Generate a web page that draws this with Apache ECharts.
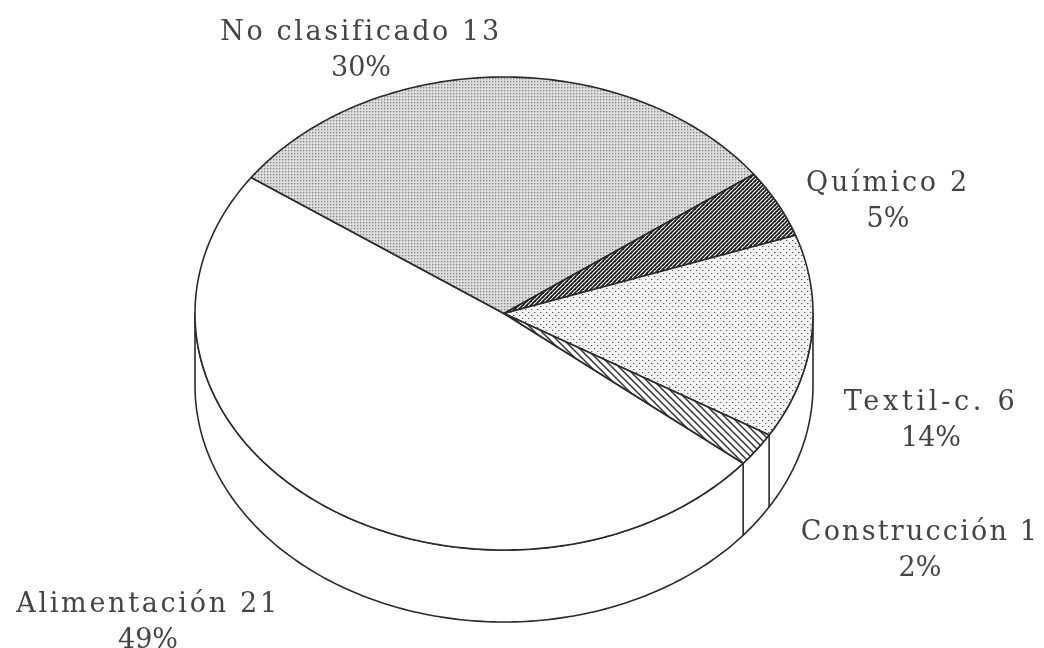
<!DOCTYPE html>
<html><head><meta charset="utf-8">
<style>html,body{margin:0;padding:0;background:#fff}#c{width:1044px;height:648px}</style>
<script src="https://cdn.jsdelivr.net/npm/echarts@6/dist/echarts.min.js"></script>
</head><body><div id="c"></div>
<script>
const categories = ['Alimentación','No clasificado','Químico','Textil-c.','Construcción'];
const counts = [21,13,2,6,1];
const percents = ['49%','30%','5%','14%','2%'];
const patternNames = ['blank','fineDots','darkHatch','sparseDots','lightHatch'];
const labelCenters = [[148,605],[361,33],[888,184],[931,403],[920,533]];
const labelGaps = [2.7,2.6,2.7,3.7,2.2];

const CX=504, CY=313.5, RX=309, RY=236.5, DEPTH=72, START=144.9, INK='#2a2a2a';

// per-label tracking, the original font is wider than any installed one
const gapByText={};
categories.forEach((c,i)=>{gapByText[c+' '+counts[i]]=labelGaps[i];});
const nativeFillText=CanvasRenderingContext2D.prototype.fillText;
CanvasRenderingContext2D.prototype.fillText=function(t,x,y,m){
  this.letterSpacing=(gapByText[t]||0)+'px';
  if(m===undefined)nativeFillText.call(this,t,x,y);else nativeFillText.call(this,t,x,y,m);
  this.letterSpacing='0px';
};

function tile(w,h,draw){const c=document.createElement('canvas');c.width=w;c.height=h;const g=c.getContext('2d');g.fillStyle='#fff';g.fillRect(0,0,w,h);draw(g);return {image:c,repeat:'repeat'};}
function hatch(g,p,dir,w,col){g.strokeStyle=col;g.lineWidth=w;for(let k=-3;k<=3;k++){g.beginPath();if(dir>0){g.moveTo(k*p-p,2*p);g.lineTo(k*p+2*p,-p);}else{g.moveTo(k*p-p,-p);g.lineTo(k*p+2*p,2*p);}g.stroke();}}
const patterns={
  blank:'#fff',
  fineDots:tile(3,3,g=>{g.fillStyle='#dcdcdc';g.fillRect(0,0,3,3);g.fillStyle='#888';g.fillRect(0,0,1,1);g.fillStyle='#bdbdbd';g.fillRect(1,0,1,1);g.fillRect(0,1,1,1);}),
  sparseDots:tile(6,6,g=>{g.fillStyle='#f4f4f4';g.fillRect(0,0,6,6);g.fillStyle='#555';g.fillRect(0,0,1,1);g.fillRect(3,3,1,1);g.fillStyle='#c4c4c4';g.fillRect(1,0,1,1);g.fillRect(4,3,1,1);}),
  darkHatch:tile(4,4,g=>hatch(g,4,1,1.8,'#1c1c1c')),
  lightHatch:tile(7,7,g=>hatch(g,7,-1,1.5,'#333'))
};
const total=counts.reduce((a,b)=>a+b,0);
function pt(deg,dy){const r=deg*Math.PI/180;return [CX+RX*Math.cos(r),CY-RY*Math.sin(r)+(dy||0)];}
function arc(a,b,dy){const n=Math.max(2,Math.ceil(Math.abs(b-a)));const p=[];for(let i=0;i<=n;i++)p.push(pt(a+(b-a)*i/n,dy));return p;}
const line={stroke:INK,lineWidth:1.6,lineJoin:'round'};

function renderItem(params,api){
  if(params.dataIndex!==0)return;
  const kids=[];
  // side wall: front half of the cylinder
  const wall=arc(180,360,0).concat(arc(360,180,DEPTH));
  kids.push({type:'polygon',shape:{points:wall},style:Object.assign({fill:'#fff'},line)});
  // slice spans: Alimentación runs anticlockwise from START, the others clockwise
  const spans=[];
  spans[0]=[START,START+counts[0]/total*360];
  let cw=START;
  for(let i=1;i<counts.length;i++){const s=counts[i]/total*360;spans[i]=[cw-s,cw];cw-=s;}
  counts.forEach((v,i)=>{
    const [s,e]=spans[i];
    const pts=[[CX,CY]].concat(arc(s,e,0));
    kids.push({type:'polygon',shape:{points:pts},style:Object.assign({fill:patterns[patternNames[i]]},line)});
  });
  // wall edges below visible slice boundaries
  for(let i=1;i<counts.length;i++){
    const deg=spans[i][0];
    const n=((deg%360)+360)%360;
    if(n>180){const p=pt(deg,0);const q=pt(deg,DEPTH);
      kids.push({type:'line',shape:{x1:p[0],y1:p[1],x2:q[0],y2:q[1]},style:line});}
  }
  // labels
  categories.forEach((c,i)=>{
    const [x,y]=labelCenters[i];
    kids.push({type:'text',style:{text:c+' '+counts[i]+'\n'+percents[i],x:x,y:y+18,align:'center',verticalAlign:'middle',
      font:'27px "DejaVu Serif"',lineHeight:36,fill:'#444'}});
  });
  return {type:'group',children:kids};
}
const chart=echarts.init(document.getElementById('c'),null,{renderer:'canvas'});
chart.setOption({
  animation:false,backgroundColor:'#fff',
  series:[{type:'custom',coordinateSystem:'none',silent:true,renderItem:renderItem,
    data:categories.map((c,i)=>({name:c,value:counts[i]}))}]
});
</script></body></html>
